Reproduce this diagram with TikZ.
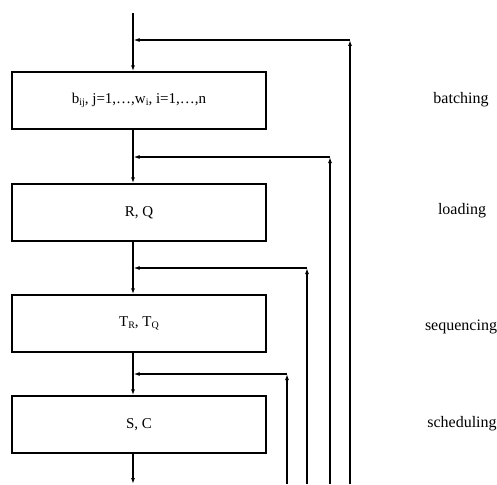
\documentclass[tikz,border=0pt]{standalone}
\usepackage{fontspec}
\setmainfont{Liberation Serif}
\usetikzlibrary{arrows.meta}
\newcommand{\lowsub}[1]{\raisebox{-2.5pt}{\fontsize{10}{11}\selectfont #1}}
\begin{document}
\begin{tikzpicture}[x=1pt,y=-1pt,
  stage/.style={draw,line width=1.4pt,minimum width=254pt,minimum height=57pt,inner sep=0pt,font=\fontsize{15}{18}\selectfont},
  lab/.style={font=\fontsize{16}{19}\selectfont},
  flow/.style={line width=1.2pt,-{Latex[length=6pt,width=4pt]}}]
\useasboundingbox (0,0) rectangle (497,484);
\node[stage] (b1) at (139,100.5) {b\lowsub{ij}, j=1,\ldots,w\lowsub{i}, i=1,\ldots,n};
\node[stage] (b2) at (139,212.5) {R, Q};
\node[stage] (b3) at (139,323.5) {T\lowsub{R}, T\lowsub{Q}};
\node[stage] (b4) at (139,424.5) {S, C};
\node[lab] (l1) at (461,100) {batching};
\node[lab] (l2) at (462,211) {loading};
\node[lab] (l3) at (461,327) {sequencing};
\node[lab] (l4) at (462,424) {scheduling};
\coordinate (top) at (133,13);
\coordinate (bot) at (133,484);
\draw[flow] (top) -- (top |- b1.north);
\draw[flow] (top |- b1.south) -- (top |- b2.north);
\draw[flow] (top |- b2.south) -- (top |- b3.north);
\draw[flow] (top |- b3.south) -- (top |- b4.north);
\draw[flow] (top |- b4.south) -- (bot);
\coordinate (f1b) at (350,484); \coordinate (f1t) at (350,40);
\coordinate (f2b) at (330,484); \coordinate (f2t) at (330,157);
\coordinate (f3b) at (307,484); \coordinate (f3t) at (307,268);
\coordinate (f4b) at (287,484); \coordinate (f4t) at (287,374);
\foreach \i in {1,2,3,4}{
  \draw[flow] (f\i b) -- (f\i t);
  \draw[flow] (f\i t) -- ([xshift=0.6pt]top |- f\i t);
}
\end{tikzpicture}
\end{document}
